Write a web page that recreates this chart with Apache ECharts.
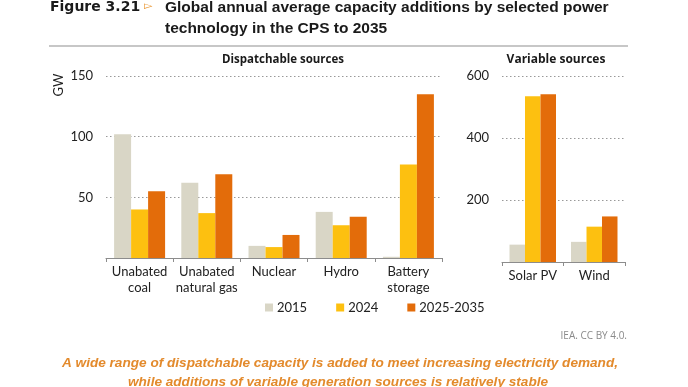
<!DOCTYPE html>
<html>
<head>
<meta charset="utf-8">
<script src="https://cdn.jsdelivr.net/npm/echarts@6/dist/echarts.min.js"></script>
<style>
html,body{margin:0;padding:0;background:#fff;}
#chart{width:688px;height:387px;}
</style>
</head>
<body>
<div id="chart"></div>
<script>
// ---- data ----
const dispatchCategories = ['Unabated\ncoal', 'Unabated\nnatural gas', 'Nuclear', 'Hydro', 'Battery\nstorage'];
const variableCategories = ['Solar PV', 'Wind'];
const seriesNames = ['2015', '2024', '2025-2035'];
const dispatch2015 = [102, 62, 10, 38, 1];
const dispatch2024 = [40, 37, 9, 27, 77];
const dispatch2035 = [55, 69, 19, 34, 135];
const variable2015 = [56, 65];
const variable2024 = [535, 114];
const variable2035 = [541, 147];
const dispatchTicks = [0, 50, 100, 150];
const variableTicks = [0, 200, 400, 600];

const colors = ['#d9d6c6', '#fdc010', '#e36c0a'];
const FONT = 'Lato';

const chart = echarts.init(document.getElementById('chart'), null, {renderer: 'canvas'});

function xAxisCfg(gridIndex, data) {
  return {
    type: 'category', gridIndex, data,
    axisLine: {show: true, lineStyle: {color: '#8c8c8c', width: 1}},
    axisTick: {show: true, length: 4, lineStyle: {color: '#8c8c8c'}},
    axisLabel: {color: '#222', fontFamily: FONT, fontSize: 13, lineHeight: 16, margin: 6, interval: 0}
  };
}
function yAxisCfg(gridIndex, ticks) {
  return {
    type: 'value', gridIndex,
    min: ticks[0], max: ticks[ticks.length - 1], interval: ticks[1] - ticks[0],
    axisLine: {show: false}, axisTick: {show: false},
    axisLabel: {color: '#222', fontFamily: FONT, fontSize: 13, margin: 13,
      formatter: v => (v === 0 ? '' : String(v))},
    splitLine: {show: true, lineStyle: {color: '#999', type: [1.5, 2.5], width: 1}}
  };
}
function bar(name, xi, data, ci) {
  return {
    name, type: 'bar', xAxisIndex: xi, yAxisIndex: xi, data,
    barGap: '0%', barWidth: xi === 0 ? 17 : 15.5,
    itemStyle: {color: colors[ci]}, animation: false
  };
}

const option = {
  animation: false,
  textStyle: {fontFamily: FONT},
  grid: [
    {left: 106, top: 76, width: 336, height: 182},
    {left: 502, top: 76, width: 123, height: 186}
  ],
  xAxis: [xAxisCfg(0, dispatchCategories), xAxisCfg(1, variableCategories)],
  yAxis: [yAxisCfg(0, dispatchTicks), yAxisCfg(1, variableTicks)],
  legend: {
    data: seriesNames, left: 265, top: 301, itemWidth: 8, itemHeight: 8, itemGap: 29,
    icon: 'rect', textStyle: {fontFamily: FONT, fontSize: 13, color: '#222', padding: [0, 0, 0, -1]}, padding: 0,
    selectedMode: false
  },
  series: [
    bar(seriesNames[0], 0, dispatch2015, 0),
    bar(seriesNames[1], 0, dispatch2024, 1),
    bar(seriesNames[2], 0, dispatch2035, 2),
    bar(seriesNames[0], 1, variable2015, 0),
    bar(seriesNames[1], 1, variable2024, 1),
    bar(seriesNames[2], 1, variable2035, 2)
  ],
  graphic: [
    {type: 'text', left: 50, top: 0, style: {text: 'Figure 3.21', font: 'bold 14px "DejaVu Sans"', fill: '#1a1a1a'}},
    {type: 'text', left: 144, top: 1, style: {text: '▻', font: 'bold 11px "DejaVu Sans"', fill: '#e8922a'}},
    {type: 'text', left: 165, top: -3, style: {text: 'Global annual average capacity additions by selected power\ntechnology in the CPS to 2035', font: 'bold 15.5px "Liberation Sans"', lineHeight: 21, fill: '#1a1a1a'}},
    {type: 'line', shape: {x1: 49, y1: 46, x2: 628, y2: 46}, style: {stroke: '#b5b5b5', lineWidth: 1.5}},
    {type: 'text', x: 283, y: 60, style: {text: 'Dispatchable sources', font: 'bold 11.5px "Open Sans"', fill: '#1a1a1a', align: 'center', verticalAlign: 'middle'}},
    {type: 'text', x: 556, y: 60, style: {text: 'Variable sources', font: 'bold 12px "Open Sans"', fill: '#1a1a1a', align: 'center', verticalAlign: 'middle'}},
    {type: 'text', x: 59, y: 85, rotation: Math.PI / 2, style: {text: 'GW', font: '13px Lato', fill: '#222', align: 'center', verticalAlign: 'middle'}},
    {type: 'text', x: 627, y: 336, style: {text: 'IEA. CC BY 4.0.', font: '10px "Open Sans"', fill: '#8a8a8a', align: 'right', verticalAlign: 'middle'}},
    {type: 'text', x: 340, y: 363, style: {text: 'A wide range of dispatchable capacity is added to meet increasing electricity demand,', font: 'italic bold 13.6px "Liberation Sans"', fill: '#e38a2c', align: 'center', verticalAlign: 'middle'}},
    {type: 'text', x: 338, y: 382, style: {text: 'while additions of variable generation sources is relatively stable', font: 'italic bold 13.6px "Liberation Sans"', fill: '#e38a2c', align: 'center', verticalAlign: 'middle'}}
  ]
};
chart.setOption(option);
</script>
</body>
</html>
